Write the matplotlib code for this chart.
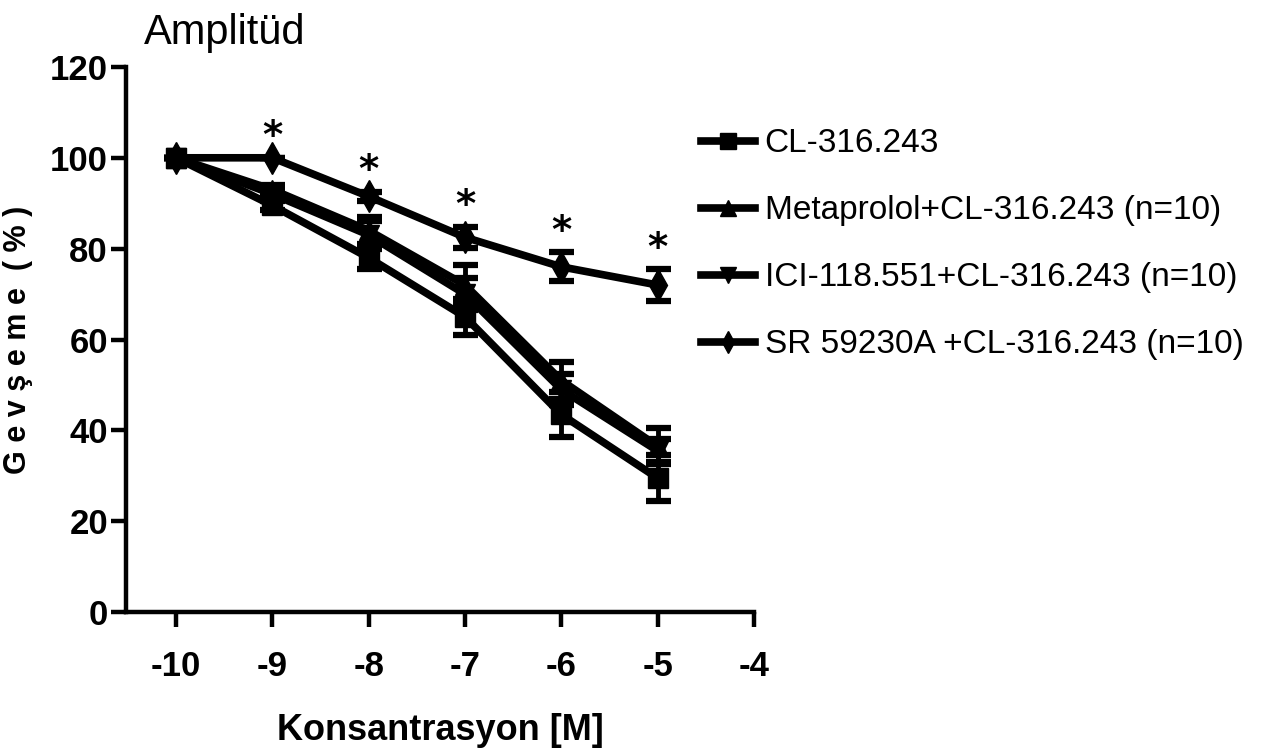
import matplotlib
matplotlib.use("Agg")
import matplotlib.pyplot as plt
from matplotlib.lines import Line2D

# log concentration [M]
conc = [-10, -9, -8, -7, -6, -5]

cl_mean = [100, 89.5, 78.0, 65.0, 43.5, 29.5]
cl_sem = [0, 1.0, 2.5, 4.0, 5.0, 5.0]
meta_mean = [100, 93.0, 84.0, 72.0, 51.0, 36.5]
meta_sem = [0, 1.0, 3.0, 4.5, 4.0, 4.0]
ici_mean = [100, 92.0, 83.0, 70.0, 49.0, 35.5]
ici_sem = [0, 1.0, 3.0, 3.5, 3.5, 2.5]
sr_mean = [100, 100, 91.5, 82.5, 76.0, 72.0]
sr_sem = [0, 0, 1.0, 2.3, 3.2, 3.5]

labels = ["CL-316.243", "Metaprolol+CL-316.243 (n=10)",
          "ICI-118.551+CL-316.243 (n=10)", "SR 59230A +CL-316.243 (n=10)"]
markers = ["s", "^", "v", "d"]
sizes = [14, 15, 15, 16]
star_x = [-9, -8, -7, -6, -5]

plt.rcParams["font.family"] = ["Liberation Sans", "DejaVu Sans"]
plt.rcParams["axes.unicode_minus"] = False

fig = plt.figure(figsize=(12.8, 7.52), dpi=100)
ax = fig.add_axes([0.0984, 0.186, 0.4906, 0.725])

series = [(cl_mean, cl_sem), (meta_mean, meta_sem),
          (ici_mean, ici_sem), (sr_mean, sr_sem)]
# draw last series first so the CL squares sit on top
for i in range(3, -1, -1):
    m, s = series[i]
    ax.errorbar(conc, m, yerr=s, color="black", lw=5.5, marker=markers[i],
                markersize=sizes[i], capsize=9, capthick=4.5, elinewidth=3.5)

for x in star_x:
    i = conc.index(x)
    ax.annotate("*", (x, sr_mean[i] + sr_sem[i]), xytext=(0, 1),
                textcoords="offset points", ha="center", va="bottom",
                fontsize=28, fontweight="bold", family="DejaVu Sans")

ax.set_xlim(-10.52, -4)
ax.set_ylim(0, 120)
ax.set_xticks([-10, -9, -8, -7, -6, -5, -4])
ax.set_yticks([0, 20, 40, 60, 80, 100, 120])
for sp in ["top", "right"]:
    ax.spines[sp].set_visible(False)
for sp in ["left", "bottom"]:
    ax.spines[sp].set_linewidth(3.2)
ax.tick_params(width=3.2, length=11, labelsize=25, pad=2)
ax.tick_params(axis="x", pad=16)
for t in ax.get_xticklabels() + ax.get_yticklabels():
    t.set_fontweight("bold")

ax.set_xlabel("Konsantrasyon [M]", fontsize=26, fontweight="bold", labelpad=22)
ax.set_ylabel("G e v ş e m e  ( % )", fontsize=22, fontweight="bold",
              labelpad=12)
ax.text(-10.33, 123, "Amplitüd", fontsize=30, ha="left", va="bottom")

handles = [Line2D([], [], color="black", lw=5.5, marker=mk, markersize=11)
           for mk in markers]
ax.legend(handles, labels, loc="upper left", bbox_to_anchor=(0.895, 0.912),
          frameon=False, fontsize=24, handlelength=1.6, handletextpad=0.3,
          labelspacing=1.08, borderaxespad=0)

fig.savefig("out.png", dpi=100)
